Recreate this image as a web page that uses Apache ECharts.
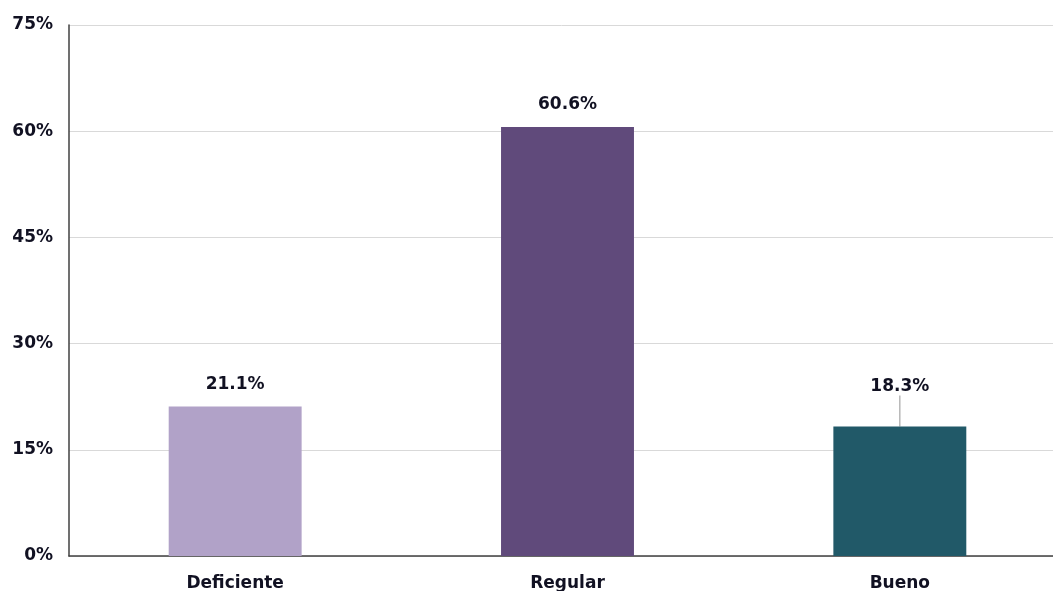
<!DOCTYPE html>
<html>
<head>
<meta charset="utf-8">
<script src="https://cdn.jsdelivr.net/npm/echarts@6/dist/echarts.min.js"></script>
<style>
html,body{margin:0;padding:0;background:#fff;}
#chart{width:1053px;height:591px;}
</style>
</head>
<body>
<div id="chart"></div>
<script>
const categories = ['Deficiente', 'Regular', 'Bueno'];
const values = [21.1, 60.6, 18.3];
const barColors = ['#b1a2c8', '#604a7b', '#215968'];
const yTicks = [0, 15, 30, 45, 60, 75];
const movedLabel = [false, false, true];

const FONT = 'DejaVu Sans';
const chart = echarts.init(document.getElementById('chart'), null, {renderer: 'canvas'});
chart.setOption({
  animation: false,
  backgroundColor: '#ffffff',
  grid: {left: 69, width: 997, top: 25, bottom: 35, containLabel: false, outerBoundsMode: 'none'},
  xAxis: {
    type: 'category',
    data: categories,
    axisLine: {show: true, lineStyle: {color: '#404040', width: 1.5}},
    axisTick: {show: false},
    axisLabel: {color: '#111122', fontFamily: FONT, fontWeight: 'bold', fontSize: 17, margin: 19}
  },
  yAxis: {
    type: 'value',
    min: yTicks[0],
    max: yTicks[yTicks.length - 1],
    interval: 15,
    axisLine: {show: true, lineStyle: {color: '#404040', width: 1.5}},
    axisTick: {show: false},
    splitLine: {show: true, lineStyle: {color: '#d9d9d9', width: 1}},
    axisLabel: {color: '#111122', fontFamily: FONT, fontWeight: 'bold', fontSize: 17, margin: 16,
      formatter: v => v + '%'}
  },
  series: [{
    type: 'bar',
    barWidth: '40%',
    data: values.map((v, i) => ({
      value: v,
      itemStyle: {color: barColors[i]},
      labelLine: {show: movedLabel[i]}
    })),
    label: {
      show: true, position: 'top', distance: 14,
      color: '#111122', fontFamily: FONT, fontWeight: 'bold', fontSize: 17,
      formatter: p => p.value.toFixed(1) + '%'
    },
    labelLine: {show: false, lineStyle: {color: '#a6a6a6', width: 1.2}},
    labelLayout: function (params) {
      if (movedLabel[params.dataIndex]) return {dy: -17};
      return {};
    }
  }]
});
</script>
</body>
</html>
